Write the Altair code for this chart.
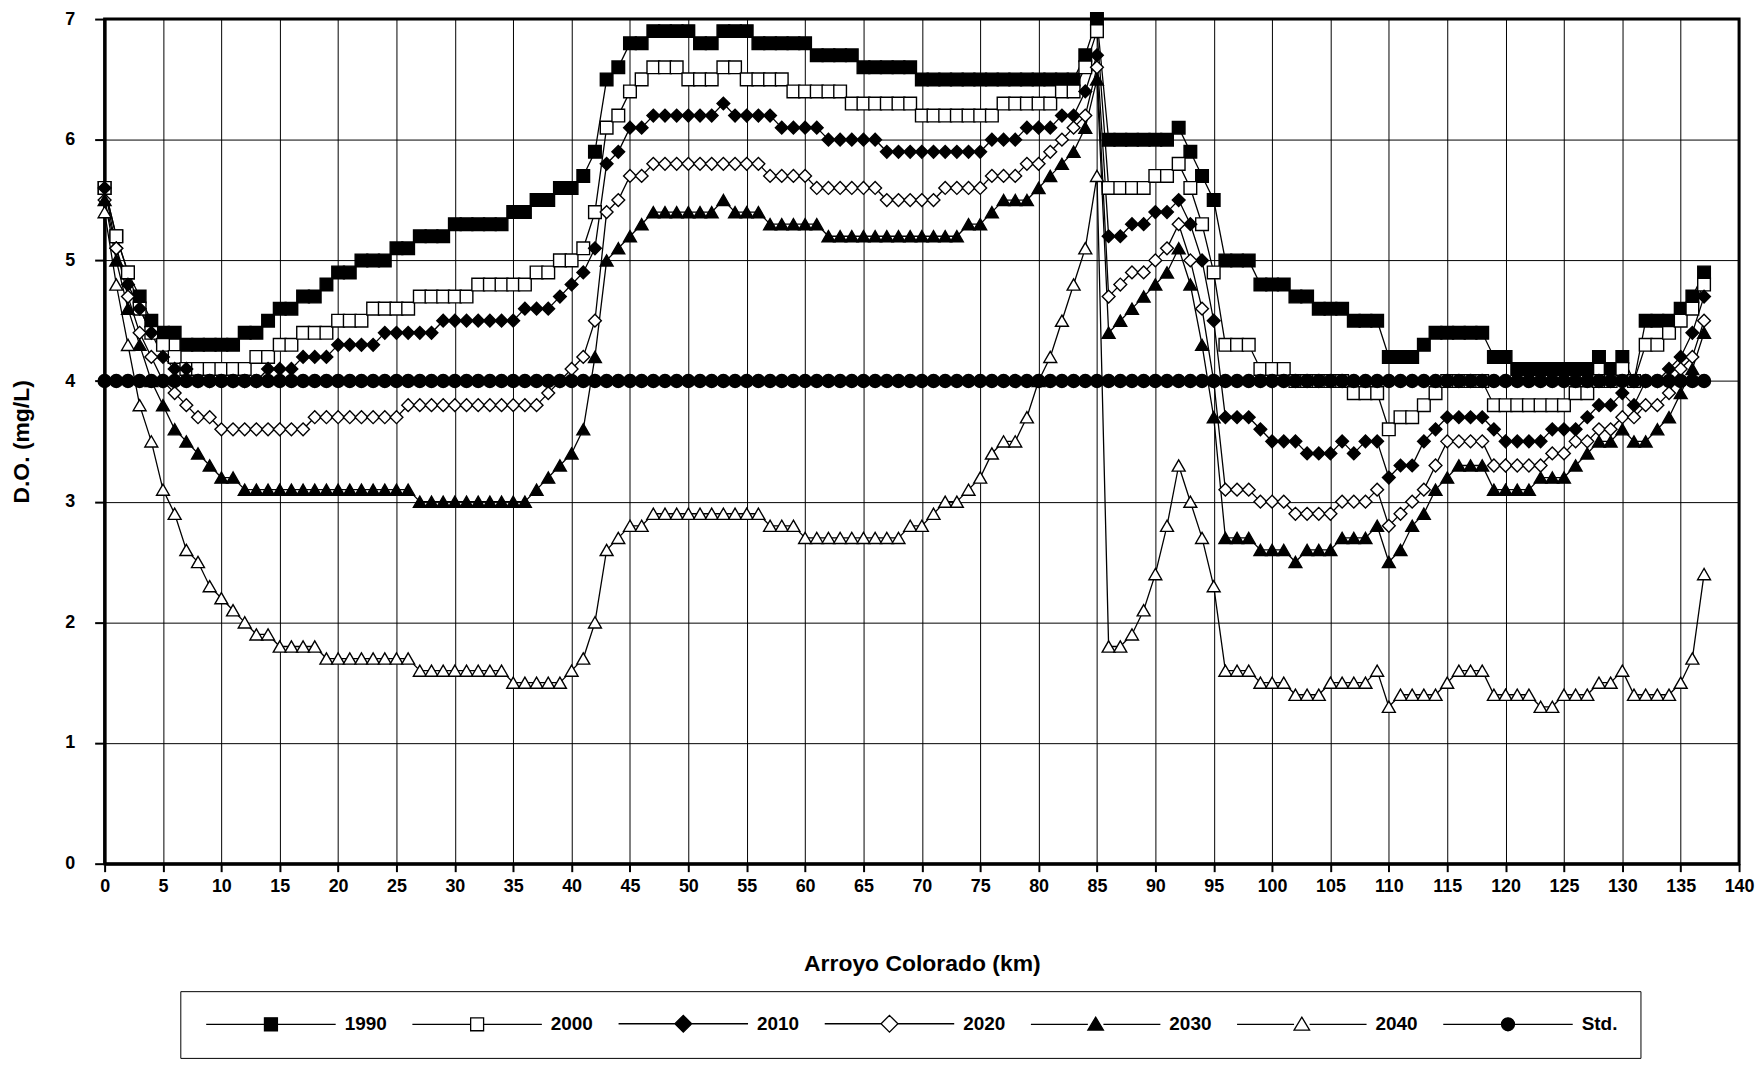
import altair as alt
import pandas as pd

# River kilometre of each model element (one value per km, 0-137)
km = list(range(138))

do_1990 = [
    5.6, 5.2, 4.9, 4.7, 4.5, 4.4, 4.4, 4.3, 4.3, 4.3,
    4.3, 4.3, 4.4, 4.4, 4.5, 4.6, 4.6, 4.7, 4.7, 4.8,
    4.9, 4.9, 5.0, 5.0, 5.0, 5.1, 5.1, 5.2, 5.2, 5.2,
    5.3, 5.3, 5.3, 5.3, 5.3, 5.4, 5.4, 5.5, 5.5, 5.6,
    5.6, 5.7, 5.9, 6.5, 6.6, 6.8, 6.8, 6.9, 6.9, 6.9,
    6.9, 6.8, 6.8, 6.9, 6.9, 6.9, 6.8, 6.8, 6.8, 6.8,
    6.8, 6.7, 6.7, 6.7, 6.7, 6.6, 6.6, 6.6, 6.6, 6.6,
    6.5, 6.5, 6.5, 6.5, 6.5, 6.5, 6.5, 6.5, 6.5, 6.5,
    6.5, 6.5, 6.5, 6.5, 6.7, 7.0, 6.0, 6.0, 6.0, 6.0,
    6.0, 6.0, 6.1, 5.9, 5.7, 5.5, 5.0, 5.0, 5.0, 4.8,
    4.8, 4.8, 4.7, 4.7, 4.6, 4.6, 4.6, 4.5, 4.5, 4.5,
    4.2, 4.2, 4.2, 4.3, 4.4, 4.4, 4.4, 4.4, 4.4, 4.2,
    4.2, 4.1, 4.1, 4.1, 4.1, 4.1, 4.1, 4.1, 4.2, 4.1,
    4.2, 4.0, 4.5, 4.5, 4.5, 4.6, 4.7, 4.9,
]

do_2000 = [
    5.6, 5.2, 4.9, 4.6, 4.4, 4.3, 4.2, 4.1, 4.1, 4.1,
    4.1, 4.1, 4.1, 4.2, 4.2, 4.3, 4.3, 4.4, 4.4, 4.4,
    4.5, 4.5, 4.5, 4.6, 4.6, 4.6, 4.6, 4.7, 4.7, 4.7,
    4.7, 4.7, 4.8, 4.8, 4.8, 4.8, 4.8, 4.9, 4.9, 5.0,
    5.0, 5.1, 5.4, 6.1, 6.2, 6.4, 6.5, 6.6, 6.6, 6.6,
    6.5, 6.5, 6.5, 6.6, 6.6, 6.5, 6.5, 6.5, 6.5, 6.4,
    6.4, 6.4, 6.4, 6.4, 6.3, 6.3, 6.3, 6.3, 6.3, 6.3,
    6.2, 6.2, 6.2, 6.2, 6.2, 6.2, 6.2, 6.3, 6.3, 6.3,
    6.3, 6.3, 6.4, 6.4, 6.6, 6.9, 5.6, 5.6, 5.6, 5.6,
    5.7, 5.7, 5.8, 5.6, 5.3, 4.9, 4.3, 4.3, 4.3, 4.1,
    4.1, 4.1, 4.0, 4.0, 4.0, 4.0, 4.0, 3.9, 3.9, 3.9,
    3.6, 3.7, 3.7, 3.8, 3.9, 4.0, 4.0, 4.0, 4.0, 3.8,
    3.8, 3.8, 3.8, 3.8, 3.8, 3.8, 3.9, 3.9, 4.0, 4.0,
    4.1, 4.0, 4.3, 4.3, 4.4, 4.5, 4.6, 4.8,
]

do_2010 = [
    5.6, 5.1, 4.8, 4.6, 4.4, 4.2, 4.1, 4.1, 4.0, 4.0,
    4.0, 4.0, 4.0, 4.0, 4.1, 4.1, 4.1, 4.2, 4.2, 4.2,
    4.3, 4.3, 4.3, 4.3, 4.4, 4.4, 4.4, 4.4, 4.4, 4.5,
    4.5, 4.5, 4.5, 4.5, 4.5, 4.5, 4.6, 4.6, 4.6, 4.7,
    4.8, 4.9, 5.1, 5.8, 5.9, 6.1, 6.1, 6.2, 6.2, 6.2,
    6.2, 6.2, 6.2, 6.3, 6.2, 6.2, 6.2, 6.2, 6.1, 6.1,
    6.1, 6.1, 6.0, 6.0, 6.0, 6.0, 6.0, 5.9, 5.9, 5.9,
    5.9, 5.9, 5.9, 5.9, 5.9, 5.9, 6.0, 6.0, 6.0, 6.1,
    6.1, 6.1, 6.2, 6.2, 6.4, 6.7, 5.2, 5.2, 5.3, 5.3,
    5.4, 5.4, 5.5, 5.3, 5.0, 4.5, 3.7, 3.7, 3.7, 3.6,
    3.5, 3.5, 3.5, 3.4, 3.4, 3.4, 3.5, 3.4, 3.5, 3.5,
    3.2, 3.3, 3.3, 3.5, 3.6, 3.7, 3.7, 3.7, 3.7, 3.6,
    3.5, 3.5, 3.5, 3.5, 3.6, 3.6, 3.6, 3.7, 3.8, 3.8,
    3.9, 3.8, 4.0, 4.0, 4.1, 4.2, 4.4, 4.7,
]

do_2020 = [
    5.5, 5.1, 4.7, 4.4, 4.2, 4.0, 3.9, 3.8, 3.7, 3.7,
    3.6, 3.6, 3.6, 3.6, 3.6, 3.6, 3.6, 3.6, 3.7, 3.7,
    3.7, 3.7, 3.7, 3.7, 3.7, 3.7, 3.8, 3.8, 3.8, 3.8,
    3.8, 3.8, 3.8, 3.8, 3.8, 3.8, 3.8, 3.8, 3.9, 4.0,
    4.1, 4.2, 4.5, 5.4, 5.5, 5.7, 5.7, 5.8, 5.8, 5.8,
    5.8, 5.8, 5.8, 5.8, 5.8, 5.8, 5.8, 5.7, 5.7, 5.7,
    5.7, 5.6, 5.6, 5.6, 5.6, 5.6, 5.6, 5.5, 5.5, 5.5,
    5.5, 5.5, 5.6, 5.6, 5.6, 5.6, 5.7, 5.7, 5.7, 5.8,
    5.8, 5.9, 6.0, 6.1, 6.2, 6.6, 4.7, 4.8, 4.9, 4.9,
    5.0, 5.1, 5.3, 5.0, 4.6, 4.0, 3.1, 3.1, 3.1, 3.0,
    3.0, 3.0, 2.9, 2.9, 2.9, 2.9, 3.0, 3.0, 3.0, 3.1,
    2.8, 2.9, 3.0, 3.1, 3.3, 3.5, 3.5, 3.5, 3.5, 3.3,
    3.3, 3.3, 3.3, 3.3, 3.4, 3.4, 3.5, 3.5, 3.6, 3.6,
    3.7, 3.7, 3.8, 3.8, 3.9, 4.1, 4.2, 4.5,
]

do_2030 = [
    5.5, 5.0, 4.6, 4.3, 4.0, 3.8, 3.6, 3.5, 3.4, 3.3,
    3.2, 3.2, 3.1, 3.1, 3.1, 3.1, 3.1, 3.1, 3.1, 3.1,
    3.1, 3.1, 3.1, 3.1, 3.1, 3.1, 3.1, 3.0, 3.0, 3.0,
    3.0, 3.0, 3.0, 3.0, 3.0, 3.0, 3.0, 3.1, 3.2, 3.3,
    3.4, 3.6, 4.2, 5.0, 5.1, 5.2, 5.3, 5.4, 5.4, 5.4,
    5.4, 5.4, 5.4, 5.5, 5.4, 5.4, 5.4, 5.3, 5.3, 5.3,
    5.3, 5.3, 5.2, 5.2, 5.2, 5.2, 5.2, 5.2, 5.2, 5.2,
    5.2, 5.2, 5.2, 5.2, 5.3, 5.3, 5.4, 5.5, 5.5, 5.5,
    5.6, 5.7, 5.8, 5.9, 6.1, 6.5, 4.4, 4.5, 4.6, 4.7,
    4.8, 4.9, 5.1, 4.8, 4.3, 3.7, 2.7, 2.7, 2.7, 2.6,
    2.6, 2.6, 2.5, 2.6, 2.6, 2.6, 2.7, 2.7, 2.7, 2.8,
    2.5, 2.6, 2.8, 2.9, 3.1, 3.2, 3.3, 3.3, 3.3, 3.1,
    3.1, 3.1, 3.1, 3.2, 3.2, 3.2, 3.3, 3.4, 3.5, 3.5,
    3.6, 3.5, 3.5, 3.6, 3.7, 3.9, 4.1, 4.4,
]

do_2040 = [
    5.4, 4.8, 4.3, 3.8, 3.5, 3.1, 2.9, 2.6, 2.5, 2.3,
    2.2, 2.1, 2.0, 1.9, 1.9, 1.8, 1.8, 1.8, 1.8, 1.7,
    1.7, 1.7, 1.7, 1.7, 1.7, 1.7, 1.7, 1.6, 1.6, 1.6,
    1.6, 1.6, 1.6, 1.6, 1.6, 1.5, 1.5, 1.5, 1.5, 1.5,
    1.6, 1.7, 2.0, 2.6, 2.7, 2.8, 2.8, 2.9, 2.9, 2.9,
    2.9, 2.9, 2.9, 2.9, 2.9, 2.9, 2.9, 2.8, 2.8, 2.8,
    2.7, 2.7, 2.7, 2.7, 2.7, 2.7, 2.7, 2.7, 2.7, 2.8,
    2.8, 2.9, 3.0, 3.0, 3.1, 3.2, 3.4, 3.5, 3.5, 3.7,
    4.0, 4.2, 4.5, 4.8, 5.1, 5.7, 1.8, 1.8, 1.9, 2.1,
    2.4, 2.8, 3.3, 3.0, 2.7, 2.3, 1.6, 1.6, 1.6, 1.5,
    1.5, 1.5, 1.4, 1.4, 1.4, 1.5, 1.5, 1.5, 1.5, 1.6,
    1.3, 1.4, 1.4, 1.4, 1.4, 1.5, 1.6, 1.6, 1.6, 1.4,
    1.4, 1.4, 1.4, 1.3, 1.3, 1.4, 1.4, 1.4, 1.5, 1.5,
    1.6, 1.4, 1.4, 1.4, 1.4, 1.5, 1.7, 2.4,
]

do_std = [
    4.0, 4.0, 4.0, 4.0, 4.0, 4.0, 4.0, 4.0, 4.0, 4.0,
    4.0, 4.0, 4.0, 4.0, 4.0, 4.0, 4.0, 4.0, 4.0, 4.0,
    4.0, 4.0, 4.0, 4.0, 4.0, 4.0, 4.0, 4.0, 4.0, 4.0,
    4.0, 4.0, 4.0, 4.0, 4.0, 4.0, 4.0, 4.0, 4.0, 4.0,
    4.0, 4.0, 4.0, 4.0, 4.0, 4.0, 4.0, 4.0, 4.0, 4.0,
    4.0, 4.0, 4.0, 4.0, 4.0, 4.0, 4.0, 4.0, 4.0, 4.0,
    4.0, 4.0, 4.0, 4.0, 4.0, 4.0, 4.0, 4.0, 4.0, 4.0,
    4.0, 4.0, 4.0, 4.0, 4.0, 4.0, 4.0, 4.0, 4.0, 4.0,
    4.0, 4.0, 4.0, 4.0, 4.0, 4.0, 4.0, 4.0, 4.0, 4.0,
    4.0, 4.0, 4.0, 4.0, 4.0, 4.0, 4.0, 4.0, 4.0, 4.0,
    4.0, 4.0, 4.0, 4.0, 4.0, 4.0, 4.0, 4.0, 4.0, 4.0,
    4.0, 4.0, 4.0, 4.0, 4.0, 4.0, 4.0, 4.0, 4.0, 4.0,
    4.0, 4.0, 4.0, 4.0, 4.0, 4.0, 4.0, 4.0, 4.0, 4.0,
    4.0, 4.0, 4.0, 4.0, 4.0, 4.0, 4.0, 4.0,
]

series_names = ["1990", "2000", "2010", "2020", "2030", "2040", "Std."]
series_values = [do_1990, do_2000, do_2010, do_2020, do_2030, do_2040, do_std]

x_ticks = list(range(0, 141, 5))
y_ticks = [0, 1, 2, 3, 4, 5, 6, 7]

rows = []
for idx, (name, vals) in enumerate(zip(series_names, series_values)):
    for k, v in zip(km, vals):
        rows.append({"km": k, "do": v, "series": name, "order_idx": idx})
df = pd.DataFrame(rows)

# ---- styling ----
marker_shapes = ["square", "square", "diamond", "diamond", "triangle-up", "triangle-up", "circle"]
marker_fills = ["black", "white", "black", "white", "black", "white", "black"]
marker_strokes = ["black", "black", "black", "black", "black", "black", "black"]
marker_sizes = [160, 170, 130, 170, 145, 215, 140]

# legend symbols: a line segment with the marker in the middle
legend_paths = [
    "M-1,0H8M10,0H19M8,-1H10V1H8Z",
    "M-1,0H8M10,0H19M8,-1H10V1H8Z",
    "M-1,0H7.7M10.3,0H19M9,-1.3L10.3,0L9,1.3L7.7,0Z",
    "M-1,0H7.7M10.3,0H19M9,-1.3L10.3,0L9,1.3L7.7,0Z",
    "M-1,0H7.8M10.2,0H19M9,-1.1L10.2,0.9L7.8,0.9Z",
    "M-1,0H7.8M10.2,0H19M9,-1.1L10.2,0.9L7.8,0.9Z",
    "M-1,0H8M10,0H19M8,0A1,1,0,1,1,10,0A1,1,0,1,1,8,0Z",
]

FONT = "Liberation Sans"

x_enc = alt.X(
    "km:Q",
    scale=alt.Scale(domain=[0, 140], nice=False, zero=True),
    axis=alt.Axis(values=x_ticks, title="Arroyo Colorado (km)", tickSize=8,
                  labelPadding=6, titlePadding=57, labelFlush=False, labelOverlap=False),
)
y_enc = alt.Y(
    "do:Q",
    scale=alt.Scale(domain=[0, 7], nice=False),
    axis=alt.Axis(values=y_ticks, title="D.O. (mg/L)", tickSize=10,
                  labelPadding=20, titlePadding=31, labelFlush=False),
)

base = alt.Chart(df)

lines = base.mark_line(color="black", strokeWidth=1.3).encode(
    x=x_enc, y=y_enc, detail="series:N"
)

points = base.mark_point(filled=True, stroke="black", strokeWidth=1.4, opacity=1).encode(
    x=x_enc,
    y=y_enc,
    shape=alt.Shape("series:N", scale=alt.Scale(domain=series_names, range=marker_shapes), legend=None),
    fill=alt.Fill("series:N", scale=alt.Scale(domain=series_names, range=marker_fills), legend=None),
    size=alt.Size("series:N", scale=alt.Scale(domain=series_names, range=marker_sizes), legend=None),
    order=alt.Order("order_idx:Q"),
)

legend_def = dict(
    orient="none", legendX=76, legendY=976, direction="horizontal", columns=7,
    gridAlign="all", title=None, padding=23, strokeColor="black",
    symbolSize=169, symbolStrokeWidth=1.3, symbolStrokeColor="black",
    labelOffset=123, columnPadding=22, labelFont=FONT, labelFontWeight="bold",
    labelFontSize=19, labelColor="black",
)

legend_layer = base.transform_filter("datum.do < 0").mark_point(
    filled=True, strokeWidth=1.3, opacity=1
).encode(
    x=x_enc,
    y=y_enc,
    shape=alt.Shape("series:N", scale=alt.Scale(domain=series_names, range=legend_paths),
                    legend=alt.Legend(**legend_def)),
    fill=alt.Fill("series:N", scale=alt.Scale(domain=series_names, range=marker_fills),
                  legend=alt.Legend(**legend_def)),
    stroke=alt.Stroke("series:N", scale=alt.Scale(domain=series_names, range=marker_strokes),
                      legend=alt.Legend(**legend_def)),
)

chart = (
    alt.layer(lines, points, legend_layer)
    .resolve_scale(shape="independent", fill="independent", size="independent", stroke="independent")
    .properties(
        width=1641, height=848,
        autosize=alt.AutoSizeParams(type="none"),
        padding={"left": 97, "top": 9, "right": 17, "bottom": 194},
        background="white",
    )
    .configure_view(stroke="black", strokeWidth=3)
    .configure_axis(
        domainColor="black", domainWidth=3, tickColor="black", tickWidth=2,
        gridColor="black", gridWidth=1, gridOpacity=1,
        labelColor="black", labelFont=FONT, labelFontWeight="bold", labelFontSize=18,
        titleColor="black", titleFont=FONT, titleFontWeight="bold", titleFontSize=23,
    )
)

chart.save("out.html", embed_options={"renderer": "svg", "actions": False})
